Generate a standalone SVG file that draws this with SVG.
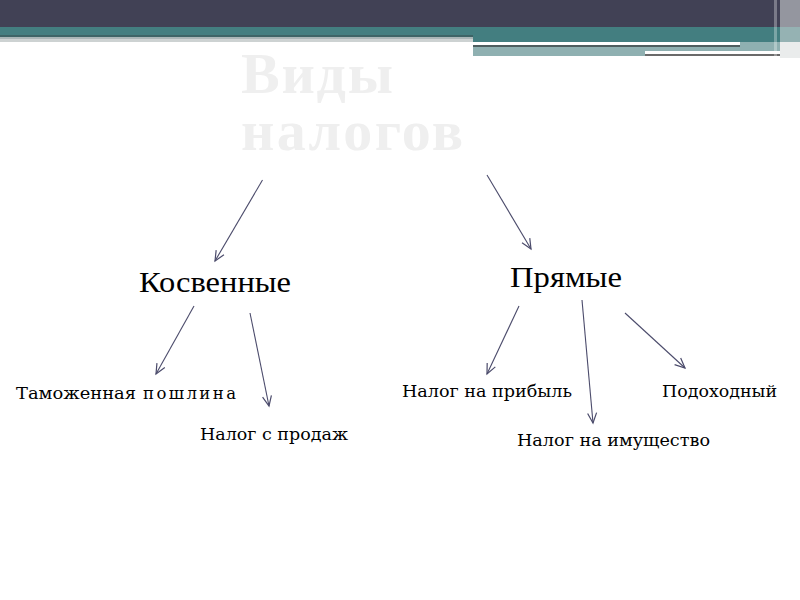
<svg xmlns="http://www.w3.org/2000/svg" width="800" height="600" viewBox="0 0 800 600">
<style>
.title{font-family:"Liberation Serif",serif;font-weight:bold;font-size:58px;fill:#efefef}
.main{font-family:"Liberation Serif",serif;font-size:30px;fill:#000}
.leaf{font-family:"DejaVu Serif",serif;font-size:16.5px;fill:#000}
.conn line{stroke:#4b4b6b;stroke-width:1.1;marker-end:url(#ah)}
</style>
<defs>
<marker id="ah" markerUnits="userSpaceOnUse" markerWidth="14" markerHeight="12" viewBox="-12 -6 14 12" refX="0" refY="0" orient="auto">
<path d="M-10,-4.5 L0,0 L-10,4.5" fill="none" stroke="#4b4b6b" stroke-width="1.2"/>
</marker>
</defs>
<rect width="800" height="600" fill="#fff"/>
<g id="header">
<rect x="0" y="0" width="800" height="27" fill="#414155"/>
<rect x="0" y="27" width="800" height="8" fill="#437e80"/>
<rect x="0" y="35" width="473" height="2" fill="#3d6466"/>
<rect x="0" y="37" width="473" height="2" fill="#a9b6b7"/>
<rect x="0" y="39" width="473" height="3" fill="#cdd2d2"/>
<rect x="473" y="35" width="327" height="7" fill="#437e80"/>
<rect x="473" y="42" width="307" height="14" fill="#8fb0b1"/>
<rect x="473" y="42" width="267" height="3" fill="#ffffff"/>
<rect x="473" y="45" width="267" height="2" fill="#4e5e5f"/>
<rect x="645" y="51" width="135" height="3" fill="#ffffff"/>
<rect x="645" y="54" width="135" height="2" fill="#6a6a6a"/>
<rect x="774" y="0" width="3" height="58" fill="#ffffff" opacity="0.3"/>
<rect x="780" y="0" width="20" height="58" fill="#d8dcdc" opacity="0.55"/>
</g>
<g id="title">
<text class="title" x="241" y="93" textLength="152" lengthAdjust="spacing">Виды</text>
<text class="title" x="241" y="150" textLength="222" lengthAdjust="spacing">налогов</text>
</g>
<g id="kosvennye"><text class="main" x="139" y="292" textLength="152" lengthAdjust="spacingAndGlyphs">Косвенные</text></g>
<g id="pryamye"><text class="main" x="510" y="287" textLength="112" lengthAdjust="spacingAndGlyphs">Прямые</text></g>
<g id="tamozh"><text class="leaf" y="399"><tspan x="16" textLength="120" lengthAdjust="spacingAndGlyphs">Таможенная</tspan><tspan x="143" textLength="93" lengthAdjust="spacing">пошлина</tspan></text></g>
<g id="prodazh"><text class="leaf" x="200" y="440" textLength="148" lengthAdjust="spacingAndGlyphs">Налог с продаж</text></g>
<g id="pribyl"><text class="leaf" x="402" y="397" textLength="170" lengthAdjust="spacingAndGlyphs">Налог на прибыль</text></g>
<g id="imushch"><text class="leaf" x="517" y="446" textLength="193" lengthAdjust="spacingAndGlyphs">Налог на имущество</text></g>
<g id="podoh"><text class="leaf" x="662" y="397" textLength="115" lengthAdjust="spacingAndGlyphs">Подоходный</text></g>
<g id="connectors" class="conn">
<line x1="262.5" y1="180" x2="215" y2="261"/>
<line x1="487" y1="175" x2="531" y2="249"/>
<line x1="194" y1="306" x2="156" y2="374"/>
<line x1="250" y1="313" x2="269" y2="406"/>
<line x1="519" y1="306" x2="487" y2="374"/>
<line x1="582" y1="300" x2="593" y2="423"/>
<line x1="625" y1="313" x2="685" y2="368"/>
</g>
</svg>
